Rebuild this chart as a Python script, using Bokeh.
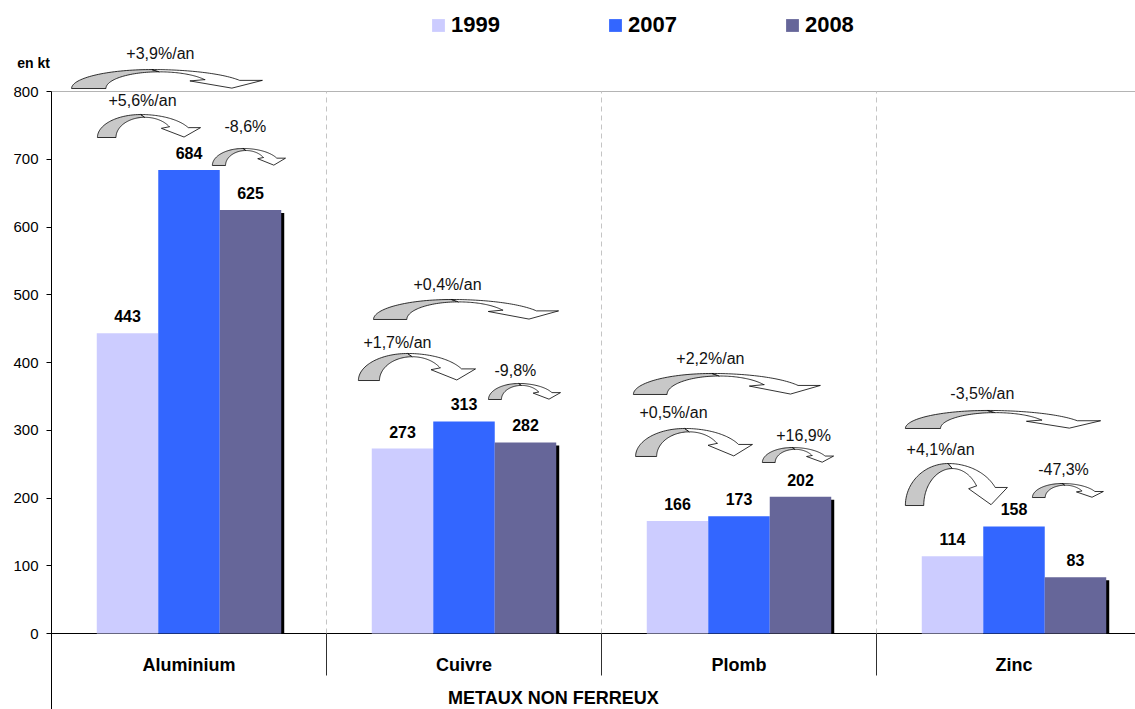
import numpy as np
from bokeh.plotting import figure
from bokeh.models import Range1d, FixedTicker, Legend, LegendItem
from bokeh.core.properties import value
from bokeh.embed import file_html
from bokeh.resources import INLINE

# ---------------- data ----------------
categories = ["Aluminium", "Cuivre", "Plomb", "Zinc"]
years = ["1999", "2007", "2008"]
v1999 = [443, 273, 166, 114]
v2007 = [684, 313, 173, 158]
v2008 = [625, 282, 202, 83]
y_ticks = [0, 100, 200, 300, 400, 500, 600, 700, 800]
growth_long = ["+3,9%/an", "+0,4%/an", "+2,2%/an", "-3,5%/an"]    # 1999 -> 2008
growth_mid = ["+5,6%/an", "+1,7%/an", "+0,5%/an", "+4,1%/an"]     # 1999 -> 2007
growth_short = ["-8,6%", "-9,8%", "+16,9%", "-47,3%"]             # 2007 -> 2008
unit_label = "en kt"
group_label = "METAUX NON FERREUX"

# ---------------- layout / style ----------------
FONT = "Liberation Sans"
colors = ["#CCCCFF", "#3366FF", "#666699"]
PX_X = 275.0      # pixels per category
PX_Y = 0.6775     # pixels per kt
W, H = 1135, 709
AX_X = 51         # pixel position of the value axis
ZERO_Y = 633      # pixel position of value 0
x_start = -AX_X / PX_X
x_end = (W - AX_X) / PX_X
y_top = ZERO_Y / PX_Y
y_bot = -(H - ZERO_Y) / PX_Y
BAR_W = 0.2236
Y_MAX = 800

# arrow boxes per category: (x0, x1 as category fraction, base value, height in kt)
arrow_long = [(0.073, 0.767, 804.4, 28.0), (0.171, 0.844, 463.5, 29.5),
              (0.116, 0.796, 352.8, 31.0), (0.105, 0.815, 302.6, 26.6)]
arrow_mid = [(0.167, 0.542, 732.1, 33.9), (0.116, 0.542, 373.4, 39.9),
             (0.124, 0.549, 261.3, 41.3), (0.105, 0.476, 188.9, 62.0)]
arrow_short = [(0.585, 0.851, 690.8, 25.1), (0.589, 0.851, 345.4, 23.6),
               (0.585, 0.844, 252.4, 22.1), (0.567, 0.825, 200.7, 20.7)]
lab_long = [(0.396, 856.1), (0.440, 515.1), (0.396, 405.9), (0.385, 354.2)]
lab_mid = [(0.331, 786.7), (0.258, 429.5), (0.262, 326.2), (0.233, 271.6)]
lab_short = [(0.705, 748.3), (0.687, 388.2), (0.735, 292.3), (0.680, 242.1)]

p = figure(width=W, height=H, output_backend="svg", toolbar_location=None,
           x_range=Range1d(x_start, x_end), y_range=Range1d(y_bot, y_top),
           min_border_left=0, min_border_right=0, min_border_top=0,
           min_border_bottom=0, outline_line_color=None)
p.xaxis.visible = False
p.xgrid.visible = False
p.ygrid.visible = False

ax = p.yaxis[0]
ax.fixed_location = 0
ax.ticker = FixedTicker(ticks=y_ticks)
ax.bounds = (y_bot, Y_MAX)
ax.axis_line_color = "black"
ax.major_tick_out = 5
ax.major_tick_in = 0
ax.minor_tick_line_color = None
ax.major_label_standoff = 8
ax.major_label_text_font = FONT
ax.major_label_text_font_size = "15px"
ax.major_label_text_color = "black"

# top border line and base line
p.segment(x0=[0], y0=[Y_MAX], x1=[x_end], y1=[Y_MAX], line_color="#b4b4b4", line_width=1)
p.segment(x0=[0], y0=[0], x1=[x_end], y1=[0], line_color="black", line_width=1)

# category separators: dashed inside plot, solid below the axis
sep_x = list(range(1, len(categories)))
p.segment(x0=sep_x, y0=[0] * len(sep_x), x1=sep_x, y1=[Y_MAX] * len(sep_x),
          line_color="#c4c4c4", line_width=1, line_dash="5 4")
p.segment(x0=sep_x, y0=[0] * len(sep_x), x1=sep_x, y1=[-62] * len(sep_x),
          line_color="#303030", line_width=1)

# bars
series = [v1999, v2007, v2008]
renderers = []
for j, (vals, col) in enumerate(zip(series, colors)):
    xs = [i + 0.5 + (j - 1) * BAR_W for i in range(len(categories))]
    if j == 2:
        p.vbar(x=[x + 3 / PX_X for x in xs], top=[v - 3 / PX_Y for v in vals],
               bottom=0, width=BAR_W, fill_color="black", line_color=None)
    r = p.vbar(x=xs, top=vals, bottom=0, width=BAR_W, fill_color=col, line_color=None)
    renderers.append(r)
    p.text(x=xs, y=vals, text=[str(v) for v in vals], text_align="center",
           text_baseline="middle", y_offset=-17, text_font=value(FONT),
           text_font_style="bold", text_font_size="16px", text_color="black")

# curved block arrows
def arrow_polys(x0, x1, yb, h):
    w = x1 - x0
    t = np.linspace(np.pi, np.pi / 2, 40)
    gray = [(0.42 + 0.42 * np.cos(a), np.sin(a)) for a in t]
    t = np.linspace(np.pi / 2, np.pi, 40)
    gray += [(0.46 + 0.28 * np.cos(a), 0.88 * np.sin(a)) for a in t]
    t = np.linspace(np.pi / 2, np.arcsin(0.43), 40)
    white = [(0.42 + 0.51 * np.cos(a), np.sin(a)) for a in t]
    white += [(1.0, 0.43), (0.84, 0.02), (0.62, 0.40), (0.70, 0.47)]
    t = np.linspace(np.arcsin(0.47 / 0.88), np.pi / 2, 40)
    white += [(0.46 + 0.28 * np.cos(a), 0.88 * np.sin(a)) for a in t]
    conv = lambda pts: ([x0 + u * w for u, v in pts], [yb + v * h for u, v in pts])
    return conv(gray), conv(white)

gx, gy, wx, wy = [], [], [], []
for i in range(len(categories)):
    for box in (arrow_long[i], arrow_mid[i], arrow_short[i]):
        (ax_, ay_), (bx_, by_) = arrow_polys(i + box[0], i + box[1], box[2], box[3])
        gx.append(ax_); gy.append(ay_); wx.append(bx_); wy.append(by_)
p.patches(gx, gy, fill_color="#c8c8c8", line_color="black", line_width=0.8)
p.patches(wx, wy, fill_color="white", line_color="black", line_width=0.8)

for labels, pos in ((growth_long, lab_long), (growth_mid, lab_mid), (growth_short, lab_short)):
    p.text(x=[i + pos[i][0] for i in range(len(categories))], y=[pp[1] for pp in pos],
           text=labels, text_align="center", text_baseline="middle",
           text_font=value(FONT), text_font_size="16px", text_color="#111111")

# category labels and group label
p.text(x=[i + 0.5 for i in range(len(categories))], y=[-47.2] * len(categories),
       text=categories, text_align="center", text_baseline="middle",
       text_font=value(FONT), text_font_style="bold", text_font_size="18px", text_color="black")
p.text(x=[1.825], y=[-94.5], text=[group_label], text_align="center", text_baseline="middle",
       text_font=value(FONT), text_font_style="bold", text_font_size="18px", text_color="black")

# unit label
p.text(x=[-18 / PX_X], y=[842.8], text=[unit_label], text_align="center",
       text_baseline="middle", text_font=value(FONT), text_font_style="bold",
       text_font_size="14px", text_color="black")

legend = Legend(items=[LegendItem(label=yr, renderers=[r]) for yr, r in zip(years, renderers)],
                orientation="horizontal", location=(430, 671), glyph_width=16, glyph_height=16,
                label_standoff=5, spacing=107, padding=0, margin=0,
                border_line_alpha=0, background_fill_alpha=0,
                label_text_font=FONT, label_text_font_size="22px",
                label_text_font_style="bold", label_text_color="black")
p.add_layout(legend, "center")

open("out.html", "w").write(file_html(p, INLINE))
